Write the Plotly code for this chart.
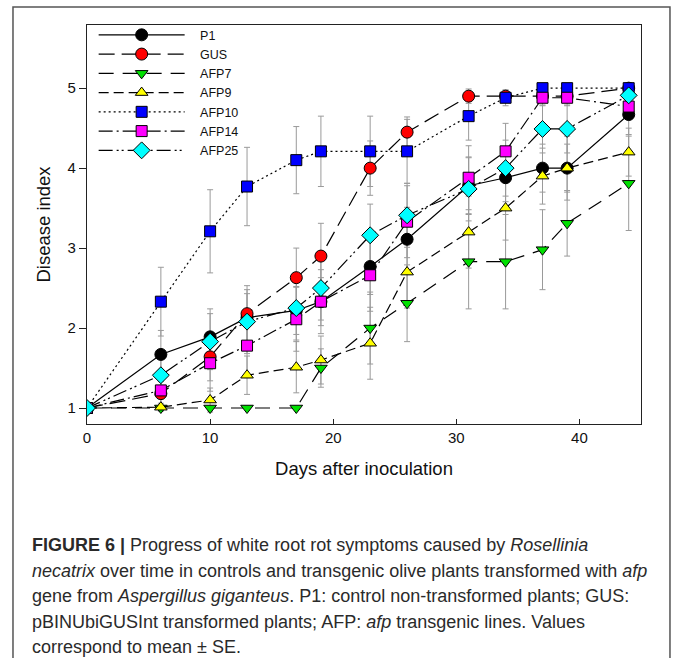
import plotly.graph_objects as go

days = [0, 6, 10, 13, 17, 19, 23, 26, 31, 34, 37, 39, 44]

series_names = ["P1", "GUS", "AFP7", "AFP9", "AFP10", "AFP14", "AFP25"]

p1 = [1.0, 1.67, 1.89, 2.13, 2.22, 2.33, 2.77, 3.11, 3.78, 3.88, 4.0, 4.0, 4.67]
gus = [1.0, 1.18, 1.64, 2.18, 2.63, 2.9, 4.0, 4.45, 4.9, 4.9, 4.9, 4.9, 5.0]
afp7 = [1.0, 1.0, 1.0, 1.0, 1.0, 1.5, 2.0, 2.31, 2.83, 2.83, 2.98, 3.31, 3.81]
afp9 = [1.0, 1.01, 1.1, 1.41, 1.51, 1.6, 1.81, 2.7, 3.2, 3.5, 3.9, 4.0, 4.2]
afp10 = [1.0, 2.33, 3.21, 3.77, 4.1, 4.21, 4.21, 4.21, 4.65, 4.88, 5.0, 5.0, 5.0]
afp14 = [1.0, 1.22, 1.56, 1.78, 2.11, 2.33, 2.66, 3.33, 3.88, 4.21, 4.88, 4.88, 4.77]
afp25 = [1.0, 1.41, 1.83, 2.08, 2.25, 2.5, 3.16, 3.41, 3.74, 4.0, 4.49, 4.49, 4.91]

se_p1 = [0, 0.3, 0.35, 0.3, 0.3, 0.3, 0.35, 0.4, 0.35, 0.3, 0.3, 0.3, 0.25]
se_gus = [0, 0.15, 0.3, 0.35, 0.37, 0.41, 0.34, 0.19, 0.09, 0.05, 0.05, 0.05, 0.0]
se_afp7 = [0, 0, 0, 0, 0, 0.24, 0.45, 0.48, 0.59, 0.59, 0.5, 0.41, 0.59]
se_afp9 = [0, 0.05, 0.15, 0.24, 0.32, 0.3, 0.45, 0.45, 0.45, 0.4, 0.35, 0.4, 0.3]
se_afp10 = [0, 0.43, 0.52, 0.49, 0.42, 0.44, 0.44, 0.4, 0.3, 0.1, 0.05, 0.05, 0]
se_afp14 = [0, 0.2, 0.35, 0.4, 0.4, 0.4, 0.45, 0.45, 0.4, 0.35, 0.1, 0.1, 0.15]
se_afp25 = [0, 0.3, 0.35, 0.4, 0.4, 0.4, 0.39, 0.4, 0.4, 0.35, 0.3, 0.3, 0.1]

values = [p1, gus, afp7, afp9, afp10, afp14, afp25]
errors = [se_p1, se_gus, se_afp7, se_afp9, se_afp10, se_afp14, se_afp25]

colors = ["#000000", "#ff0000", "#00e000", "#ffff00", "#0000ff", "#ff00ff", "#00ffff"]
symbols = ["circle", "circle", "triangle-down", "triangle-up", "square", "square", "diamond"]
sizes = [12, 12, 11, 11, 11, 11, 13]
dashes = ["solid", "16px,7px", "15px,9px", "10px,5px", "2px,3px",
          "14px,4px,2px,4px", "14px,4px,2px,3px,2px,4px"]

caption_lines = [
    "<b>FIGURE 6 |</b> Progress of white root rot symptoms caused by <i>Rosellinia</i>",
    "<i>necatrix</i> over time in controls and transgenic olive plants transformed with <i>afp</i>",
    "gene from <i>Aspergillus giganteus</i>. P1: control non-transformed plants; GUS:",
    "pBINUbiGUSInt transformed plants; AFP: <i>afp</i> transgenic lines. Values",
    "correspond to mean \u00b1 SE.",
]

fig = go.Figure()

# error bars first, so they sit beneath every line and marker
for vals, errs in zip(values, errors):
    fig.add_trace(go.Scatter(
        x=days, y=vals, mode="markers",
        marker=dict(size=1, color="rgba(0,0,0,0)"),
        error_y=dict(type="data", array=errs, visible=True,
                     color="#9a9a9a", thickness=1, width=3),
        showlegend=False, hoverinfo="skip",
    ))

for name, vals, col, sym, sz, dash in zip(series_names, values, colors, symbols, sizes, dashes):
    fig.add_trace(go.Scatter(
        x=days, y=vals, name="\u00a0\u00a0\u00a0" + name, mode="lines+markers",
        line=dict(color="#000000", width=1.2, dash=dash),
        marker=dict(symbol=sym, size=sz, color=col,
                    line=dict(color="#000000", width=1)),
    ))

font_family = "Liberation Sans, Arial, sans-serif"

fig.update_layout(
    width=675, height=658,
    margin=dict(l=87, r=34, t=25, b=234, autoexpand=False),
    paper_bgcolor="white", plot_bgcolor="white",
    font=dict(family=font_family, color="#111111"),
    showlegend=True,
    legend=dict(
        x=0.012, y=1.012, xanchor="left", yanchor="top",
        bgcolor="rgba(0,0,0,0)", borderwidth=0,
        font=dict(size=12.5, family=font_family, color="#111111"),
        itemwidth=86, tracegroupgap=0,
    ),
    xaxis=dict(
        range=[0, 45], tickvals=[0, 10, 20, 30, 40],
        ticks="inside", ticklen=5, tickwidth=1, tickcolor="#222",
        showline=True, linecolor="#222", linewidth=1.3, mirror=True,
        showgrid=False, zeroline=False,
        tickfont=dict(size=15, family=font_family, color="#111"),
        title=dict(text="Days after inoculation", standoff=16,
                   font=dict(size=18.5, family=font_family, color="#111")),
        automargin=False,
    ),
    yaxis=dict(
        range=[0.8, 5.79], tickvals=[1, 2, 3, 4, 5],
        ticks="outside", ticklen=7, tickwidth=1, tickcolor="#222",
        showline=True, linecolor="#222", linewidth=1.3, mirror=True,
        showgrid=False, zeroline=False,
        tickfont=dict(size=15, family=font_family, color="#111"),
        title=dict(text="Disease index", standoff=12,
                   font=dict(size=18.5, family=font_family, color="#111")),
        automargin=False,
    ),
)

# outer figure frame (left, top, right)
fig.add_shape(type="path", xref="paper", yref="paper",
              path="M -0.1336,-0.62 L -0.1336,1.045 L 1.0523,1.045 L 1.0523,-0.62",
              line=dict(color="#555555", width=1.5))

# caption lines
line_top_px = 545
line_step_px = 25.5
for i, txt in enumerate(caption_lines):
    ypx = line_top_px + i * line_step_px
    fig.add_annotation(
        text=txt, xref="paper", yref="paper",
        x=(30 - 87) / 554, y=(424 - ypx) / 399,
        xanchor="left", yanchor="middle", showarrow=False,
        font=dict(size=18, family=font_family, color="#2a2a2a"),
        align="left",
    )

fig.write_html("out.html")
